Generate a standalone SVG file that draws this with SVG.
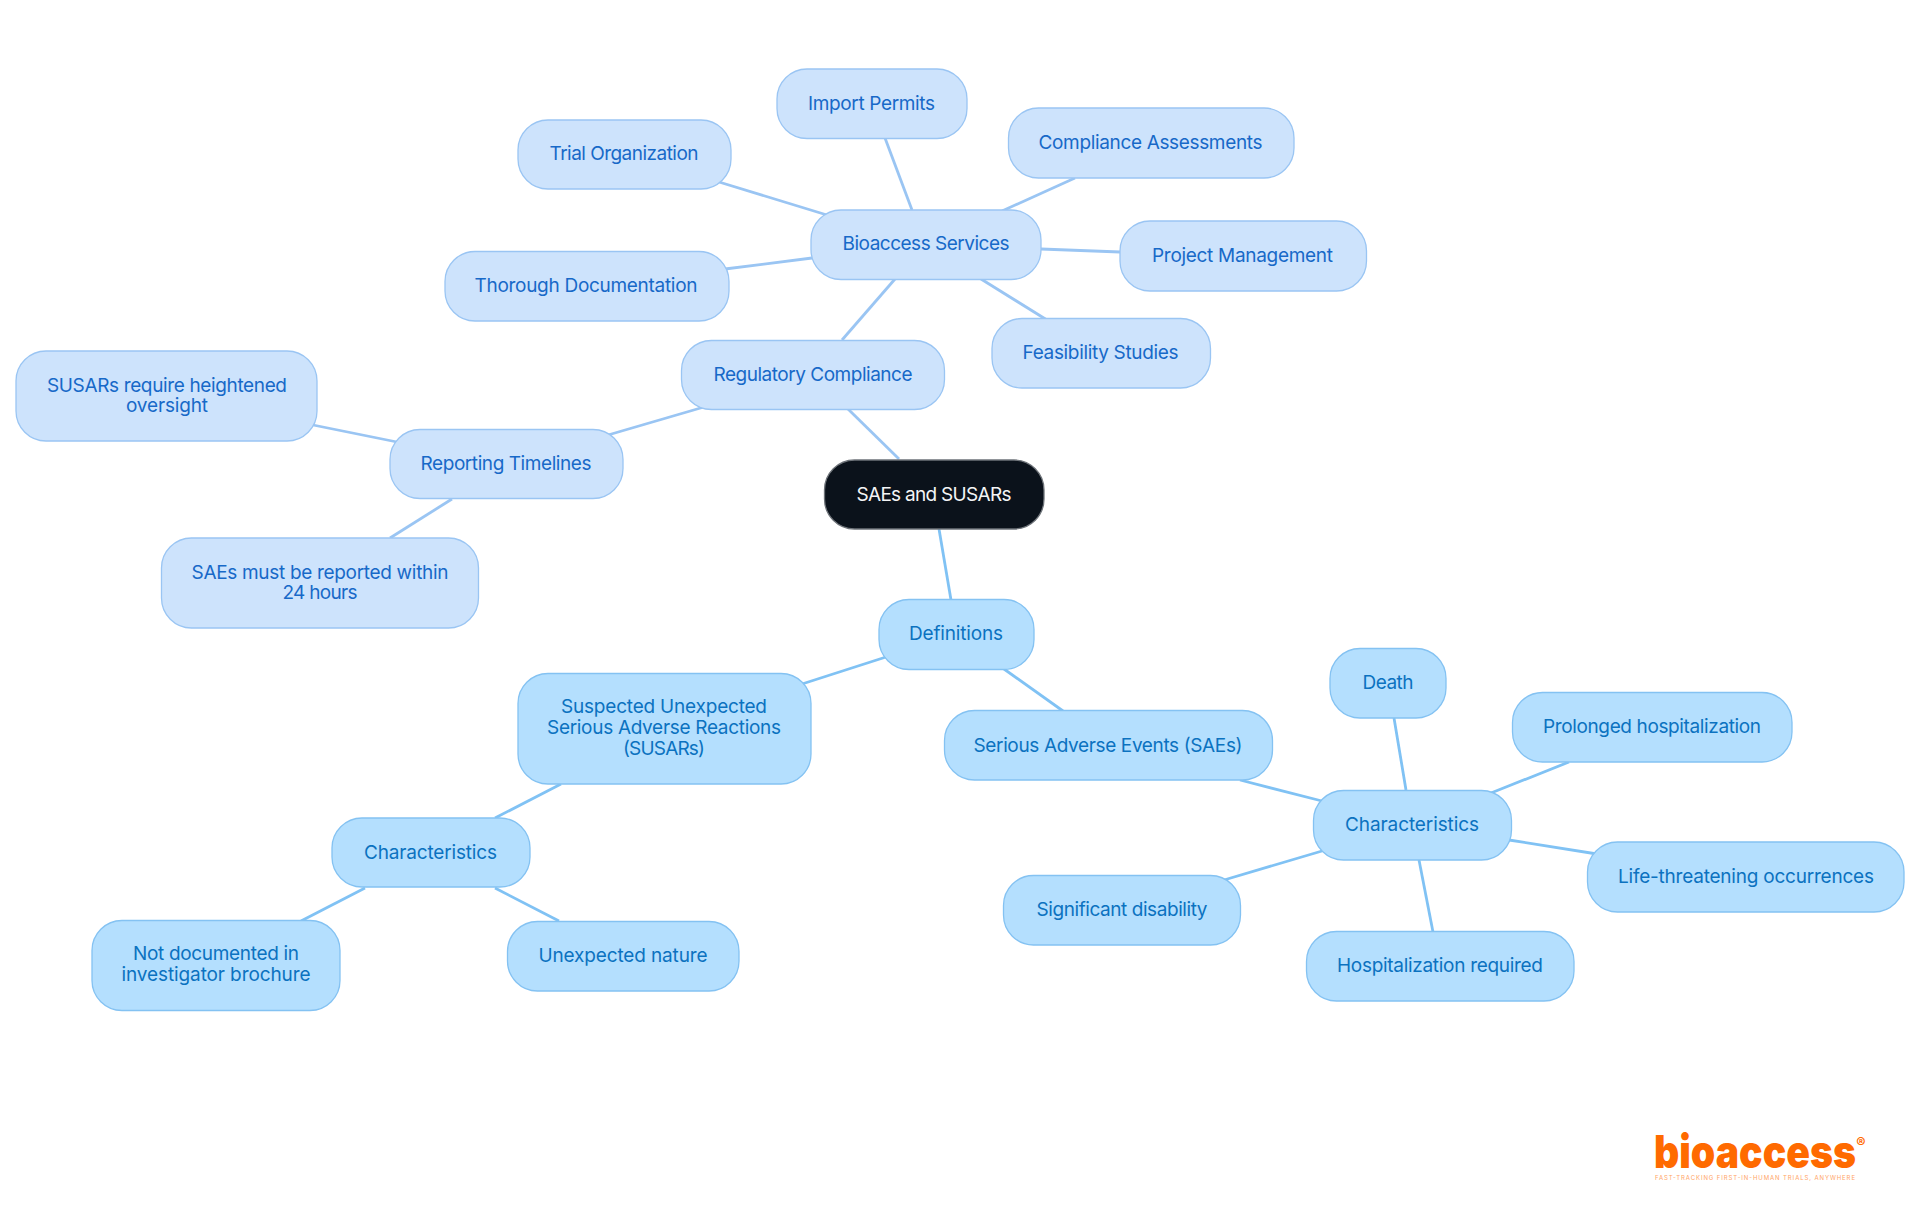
<svg xmlns="http://www.w3.org/2000/svg" width="1920" height="1215" viewBox="0 0 1920 1215">
<style>
text{font-family:"Inter","Noto Sans","Liberation Sans",sans-serif;font-size:19px;text-anchor:middle}
.a rect{fill:#CDE3FC;stroke:#9AC5F3;stroke-width:1.3}.a text{fill:#1769C8}
.b rect{fill:#B4DFFE;stroke:#84C2F2;stroke-width:1.3}.b text{fill:#0B72C0}
.r rect{fill:#0B121B;stroke:#6E7379;stroke-width:1.3}.r text{fill:#F4F5F6}
#edges line{stroke-width:2.8;fill:none}
#edges .ea{stroke:#9AC5F3}#edges .eb{stroke:#80C2F4}
</style>
<rect width="1920" height="1215" fill="#fff"/>
<g id="edges">
<line class="ea" x1="848" y1="409" x2="899" y2="459"/>
<line class="eb" x1="939" y1="529" x2="951" y2="600"/>
<line class="ea" x1="842" y1="340" x2="895" y2="279"/>
<line class="ea" x1="704" y1="407" x2="608" y2="435"/>
<line class="ea" x1="313" y1="425" x2="397" y2="442"/>
<line class="ea" x1="452" y1="499" x2="390" y2="538"/>
<line class="ea" x1="912" y1="210" x2="885" y2="138"/>
<line class="ea" x1="827" y1="215" x2="719" y2="182"/>
<line class="ea" x1="1002" y1="211" x2="1075" y2="178"/>
<line class="ea" x1="1041" y1="249" x2="1120" y2="252"/>
<line class="ea" x1="812" y1="258" x2="725" y2="269"/>
<line class="ea" x1="981" y1="279" x2="1047" y2="320"/>
<line class="eb" x1="886" y1="657" x2="802" y2="684"/>
<line class="eb" x1="1004" y1="669" x2="1063" y2="711"/>
<line class="eb" x1="561" y1="784" x2="495" y2="818"/>
<line class="eb" x1="365" y1="888" x2="301" y2="921"/>
<line class="eb" x1="495" y1="888" x2="559" y2="921"/>
<line class="eb" x1="1240" y1="780" x2="1322" y2="801"/>
<line class="eb" x1="1406" y1="790" x2="1394" y2="718"/>
<line class="eb" x1="1491" y1="793" x2="1569" y2="762"/>
<line class="eb" x1="1509" y1="840" x2="1597" y2="854"/>
<line class="eb" x1="1322" y1="851" x2="1224" y2="880"/>
<line class="eb" x1="1419" y1="860" x2="1433" y2="932"/>
</g>
<g id="root" class="r"><rect x="824.5" y="460" width="219.5" height="69" rx="30"/><text x="934" y="500.500" textLength="155">SAEs and SUSARs</text></g>
<g id="regulatory" class="a"><rect x="681.5" y="340.5" width="263" height="69" rx="30"/><text x="813" y="380.500" textLength="199">Regulatory Compliance</text></g>
<g id="bioaccess" class="a"><rect x="811" y="210" width="230" height="69.500" rx="30"/><text x="926" y="250" textLength="167">Bioaccess Services</text></g>
<g id="import" class="a"><rect x="777" y="69" width="190" height="69.500" rx="30"/><text x="871.500" y="109.500" textLength="127">Import Permits</text></g>
<g id="trial" class="a"><rect x="518" y="120" width="213" height="69" rx="30"/><text x="624" y="160" textLength="149">Trial Organization</text></g>
<g id="compliance" class="a"><rect x="1008.500" y="108" width="285.500" height="70" rx="30"/><text x="1150.500" y="148.500" textLength="224">Compliance Assessments</text></g>
<g id="project" class="a"><rect x="1120" y="221" width="246.500" height="70" rx="30"/><text x="1242.500" y="261.500" textLength="181">Project Management</text></g>
<g id="thorough" class="a"><rect x="445" y="251.500" width="284" height="69.500" rx="30"/><text x="586" y="292" textLength="223">Thorough Documentation</text></g>
<g id="feasibility" class="a"><rect x="992" y="318.500" width="218.500" height="69.500" rx="30"/><text x="1100.500" y="358.500" textLength="156">Feasibility Studies</text></g>
<g id="reporting" class="a"><rect x="390" y="429.500" width="233" height="69" rx="30"/><text x="506" y="470" textLength="171">Reporting Timelines</text></g>
<g id="susars-oversight" class="a"><rect x="16" y="351" width="301" height="90" rx="30"/><text x="167" y="392" textLength="240">SUSARs require heightened</text><text x="167" y="412" textLength="82">oversight</text></g>
<g id="saes-24h" class="a"><rect x="161.500" y="538" width="317" height="90" rx="30"/><text x="320" y="579" textLength="257">SAEs must be reported within</text><text x="320" y="599" textLength="75">24 hours</text></g>
<g id="definitions" class="b"><rect x="879" y="599.500" width="155" height="70" rx="30"/><text x="956" y="640" textLength="94">Definitions</text></g>
<g id="suspected" class="b"><rect x="518" y="673.500" width="293" height="110.500" rx="30"/><text x="664" y="713" textLength="206">Suspected Unexpected</text><text x="664" y="734" textLength="234">Serious Adverse Reactions</text><text x="664" y="755" textLength="82">(SUSARs)</text></g>
<g id="serious" class="b"><rect x="944.500" y="710.500" width="328" height="69.500" rx="30"/><text x="1108" y="751.500" textLength="269">Serious Adverse Events (SAEs)</text></g>
<g id="char-left" class="b"><rect x="332" y="818" width="198" height="69" rx="30"/><text x="430.500" y="858.500" textLength="133">Characteristics</text></g>
<g id="not-documented" class="b"><rect x="92" y="920.500" width="248" height="90" rx="30"/><text x="216" y="960" textLength="166">Not documented in</text><text x="216" y="981" textLength="189">investigator brochure</text></g>
<g id="unexpected" class="b"><rect x="507.500" y="921.500" width="231.500" height="69.500" rx="30"/><text x="623" y="962" textLength="169">Unexpected nature</text></g>
<g id="char-right" class="b"><rect x="1313.500" y="790.500" width="198" height="69.500" rx="30"/><text x="1412" y="831" textLength="134">Characteristics</text></g>
<g id="death" class="b"><rect x="1330" y="648.500" width="116" height="69.500" rx="30"/><text x="1388" y="689" textLength="51">Death</text></g>
<g id="prolonged" class="b"><rect x="1512.500" y="692.500" width="279.500" height="69.500" rx="30"/><text x="1652" y="733" textLength="218">Prolonged hospitalization</text></g>
<g id="life" class="b"><rect x="1587.500" y="842" width="316.500" height="70" rx="30"/><text x="1746" y="882.500" textLength="256">Life-threatening occurrences</text></g>
<g id="significant" class="b"><rect x="1003.500" y="875.500" width="237" height="69.500" rx="30"/><text x="1122" y="916" textLength="171">Significant disability</text></g>
<g id="hospitalization" class="b"><rect x="1306.500" y="931.500" width="267.500" height="69.500" rx="30"/><text x="1440" y="972" textLength="206">Hospitalization required</text></g>
<g id="logo">
<text x="1755" y="1168" style="font-size:46px;font-weight:900;fill:#FF6A00" textLength="202" lengthAdjust="spacingAndGlyphs">bioaccess</text>
<text x="1861" y="1147.500" style="font-size:14px;font-weight:700;fill:#FF6A00">®</text>
<text x="1755" y="1179.500" style="font-size:6px;fill:#FFA566" textLength="200">FAST-TRACKING FIRST-IN-HUMAN TRIALS, ANYWHERE</text>
</g>
</svg>
